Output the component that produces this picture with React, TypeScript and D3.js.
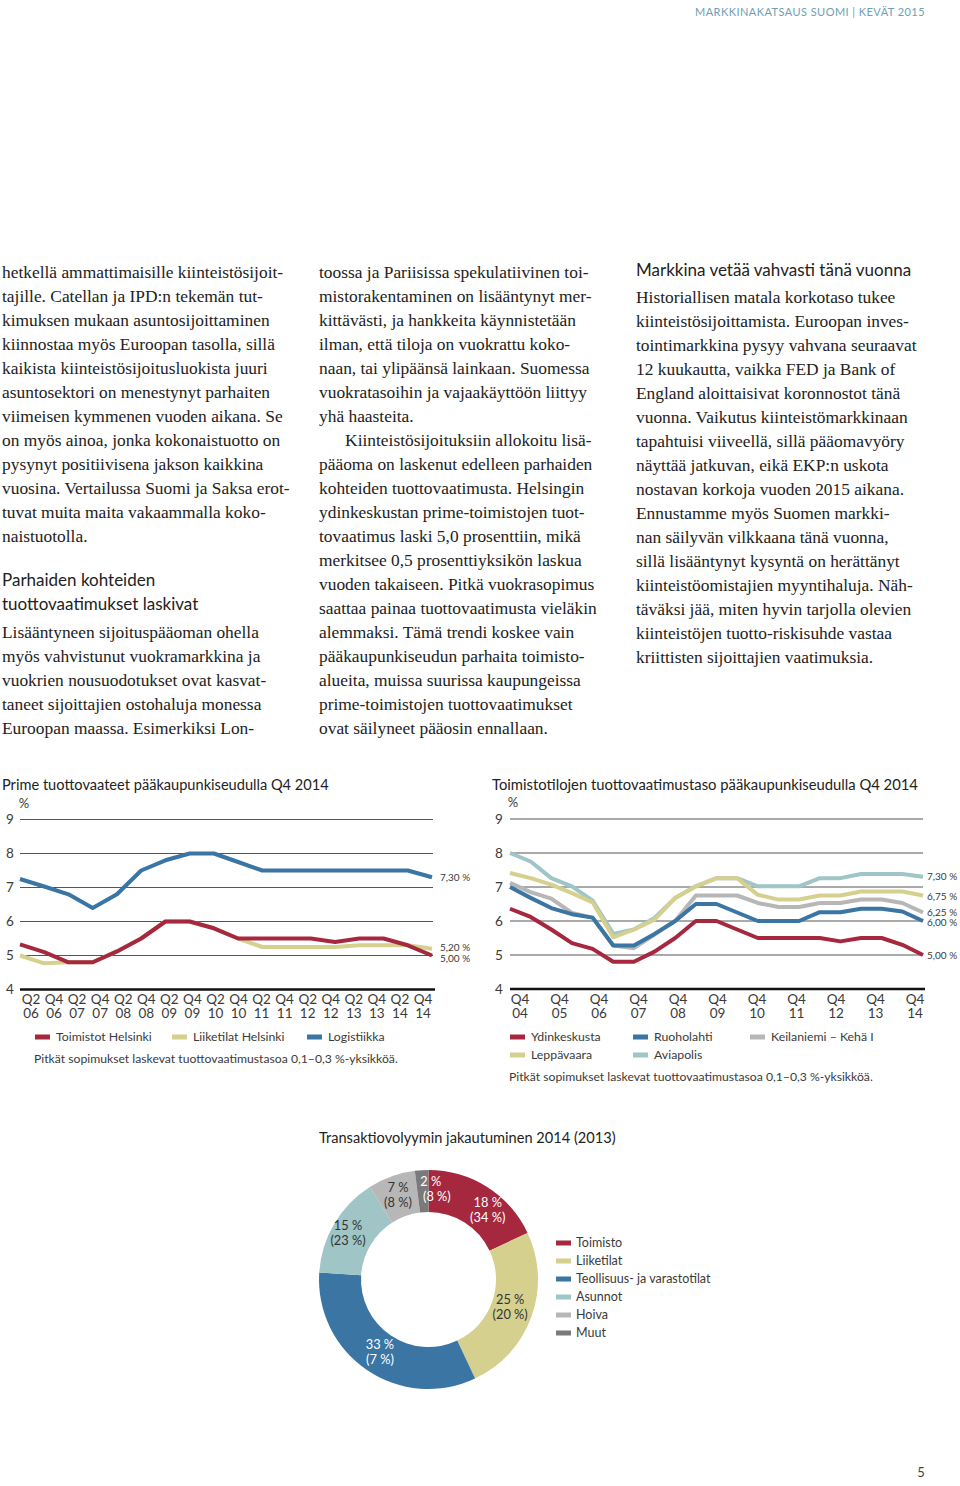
import React from "react";
import * as d3 from "d3";

// ---------- DATA ----------
const primeQuarters = ["Q2 06","Q4 06","Q2 07","Q4 07","Q2 08","Q4 08","Q2 09","Q4 09","Q2 10","Q4 10","Q2 11","Q4 11","Q2 12","Q4 12","Q2 13","Q4 13","Q2 14","Q4 14"];
const toimistotHelsinki = [5.33, 5.1, 4.8, 4.8, 5.12, 5.5, 6.0, 6.0, 5.8, 5.5, 5.5, 5.5, 5.5, 5.4, 5.5, 5.5, 5.3, 5.0];
const liiketilatHelsinki = [5.0, 4.77, 4.8, 4.8, 5.12, 5.5, 6.0, 6.0, 5.8, 5.5, 5.25, 5.25, 5.25, 5.25, 5.3, 5.3, 5.3, 5.2];
const logistiikka = [7.25, 7.03, 6.8, 6.4, 6.8, 7.5, 7.8, 8.0, 8.0, 7.75, 7.5, 7.5, 7.5, 7.5, 7.5, 7.5, 7.5, 7.3];
const primeEndLabels = ["7,30 %", "5,20 %", "5,00 %"];
const primeEndValues = [7.3, 5.2, 5.0];

const officePeriods = ["Q4 04","Q2 05","Q4 05","Q2 06","Q4 06","Q2 07","Q4 07","Q2 08","Q4 08","Q2 09","Q4 09","Q2 10","Q4 10","Q2 11","Q4 11","Q2 12","Q4 12","Q2 13","Q4 13","Q2 14","Q4 14"];
const officeTicks = ["Q4 04","Q4 05","Q4 06","Q4 07","Q4 08","Q4 09","Q4 10","Q4 11","Q4 12","Q4 13","Q4 14"];
const ydinkeskusta = [6.36, 6.12, 5.75, 5.35, 5.18, 4.8, 4.8, 5.1, 5.5, 6.0, 6.0, 5.75, 5.5, 5.5, 5.5, 5.5, 5.4, 5.5, 5.5, 5.3, 5.0];
const ruoholahti = [7.0, 6.68, 6.38, 6.2, 6.1, 5.28, 5.28, 5.62, 6.0, 6.5, 6.5, 6.25, 6.0, 6.0, 6.0, 6.26, 6.26, 6.36, 6.36, 6.28, 6.0];
const keilaniemi = [7.12, 6.85, 6.66, 6.24, 6.1, 5.28, 5.2, 5.6, 6.0, 6.75, 6.75, 6.75, 6.53, 6.41, 6.41, 6.53, 6.53, 6.63, 6.63, 6.53, 6.25];
const leppavaara = [7.41, 7.26, 7.07, 6.82, 6.55, 5.52, 5.75, 6.04, 6.68, 7.02, 7.26, 7.26, 6.77, 6.63, 6.63, 6.75, 6.75, 6.87, 6.87, 6.87, 6.75];
const aviapolis = [8.0, 7.75, 7.26, 7.02, 6.6, 5.62, 5.75, 6.09, 6.68, 7.02, 7.26, 7.26, 7.02, 7.02, 7.02, 7.26, 7.26, 7.38, 7.38, 7.38, 7.3];
const officeEndLabels = ["7,30 %", "6,75 %", "6,25 %", "6,00 %", "5,00 %"];
const officeEndValues = [7.3, 6.75, 6.25, 6.0, 5.0];

const yTicks = [4, 5, 6, 7, 8, 9];

const donutCategories = ["Toimisto", "Liiketilat", "Teollisuus- ja varastotilat", "Asunnot", "Hoiva", "Muut"];
const donut2014 = [18, 25, 33, 15, 7, 2];
const donut2013 = [34, 20, 7, 23, 8, 8];

const col1 = [
  "hetkellä ammattimaisille kiinteistösijoit-",
  "tajille. Catellan ja IPD:n tekemän tut-",
  "kimuksen mukaan asuntosijoittaminen",
  "kiinnostaa myös Euroopan tasolla, sillä",
  "kaikista kiinteistösijoitusluokista juuri",
  "asuntosektori on menestynyt parhaiten",
  "viimeisen kymmenen vuoden aikana. Se",
  "on myös ainoa, jonka kokonaistuotto on",
  "pysynyt positiivisena jakson kaikkina",
  "vuosina. Vertailussa Suomi ja Saksa erot-",
  "tuvat muita maita vakaammalla koko-",
  "naistuotolla.",
];
const col1Heading = ["Parhaiden kohteiden", "tuottovaatimukset laskivat"];
const col1b = [
  "Lisääntyneen sijoituspääoman ohella",
  "myös vahvistunut vuokramarkkina ja",
  "vuokrien nousuodotukset ovat kasvat-",
  "taneet sijoittajien ostohaluja monessa",
  "Euroopan maassa. Esimerkiksi Lon-",
];
const col2 = [
  "toossa ja Pariisissa spekulatiivinen toi-",
  "mistorakentaminen on lisääntynyt mer-",
  "kittävästi, ja hankkeita käynnistetään",
  "ilman, että tiloja on vuokrattu koko-",
  "naan, tai ylipäänsä lainkaan. Suomessa",
  "vuokratasoihin ja vajaakäyttöön liittyy",
  "yhä haasteita.",
  "\u2003\u2002Kiinteistösijoituksiin allokoitu lisä-",
  "pääoma on laskenut edelleen parhaiden",
  "kohteiden tuottovaatimusta. Helsingin",
  "ydinkeskustan prime-toimistojen tuot-",
  "tovaatimus laski 5,0 prosenttiin, mikä",
  "merkitsee 0,5 prosenttiyksikön laskua",
  "vuoden takaiseen. Pitkä vuokrasopimus",
  "saattaa painaa tuottovaatimusta vieläkin",
  "alemmaksi. Tämä trendi koskee vain",
  "pääkaupunkiseudun parhaita toimisto-",
  "alueita, muissa suurissa kaupungeissa",
  "prime-toimistojen tuottovaatimukset",
  "ovat säilyneet pääosin ennallaan.",
];
const col3Heading = "Markkina vetää vahvasti tänä vuonna";
const col3 = [
  "Historiallisen matala korkotaso tukee",
  "kiinteistösijoittamista. Euroopan inves-",
  "tointimarkkina pysyy vahvana seuraavat",
  "12 kuukautta, vaikka FED ja Bank of",
  "England aloittaisivat koronnostot tänä",
  "vuonna. Vaikutus kiinteistömarkkinaan",
  "tapahtuisi viiveellä, sillä pääomavyöry",
  "näyttää jatkuvan, eikä EKP:n uskota",
  "nostavan korkoja vuoden 2015 aikana.",
  "Ennustamme myös Suomen markki-",
  "nan säilyvän vilkkaana tänä vuonna,",
  "sillä lisääntynyt kysyntä on herättänyt",
  "kiinteistöomistajien myyntihaluja. Näh-",
  "täväksi jää, miten hyvin tarjolla olevien",
  "kiinteistöjen tuotto-riskisuhde vastaa",
  "kriittisten sijoittajien vaatimuksia.",
];

// ---------- STYLE ----------
const C = {
  red: "#a6283f",
  yellow: "#d6d08e",
  blue: "#3a75a3",
  teal: "#9fc5c6",
  gray: "#b7b7b7",
  dark: "#7a7a7a",
};
const SANS = "Lato, 'Open Sans', sans-serif";
const SERIF = "'Liberation Serif', 'DejaVu Serif', serif";
const TXT = "#3a3a3a";

function Paragraph({ lines, x, y0, step }: { lines: string[]; x: number; y0: number; step: number }) {
  return (
    <g fontFamily={SERIF} fontSize={17.4} fill="#222">
      {lines.map((l, i) => (
        <text key={i} x={x} y={y0 + i * step} dy="0.33em" xmlSpace="preserve">{l}</text>
      ))}
    </g>
  );
}

function YAxisGrid({ y, x0, x1, labelX }: { y: d3.ScaleLinear<number, number>; x0: number; x1: number; labelX: number }) {
  return (
    <g>
      {yTicks.map((t) => (
        <g key={t}>
          <line x1={x0} x2={t === 4 ? x1 + 2 : x1} y1={y(t)} y2={y(t)} stroke={t === 4 ? "#111" : "#555"} strokeWidth={t === 4 ? 2.6 : 1} />
          <text x={labelX} y={y(t)} dy="0.35em" textAnchor="middle" fontFamily={SANS} fontSize={13.5} fill={TXT}>{t}</text>
        </g>
      ))}
      <text x={labelX + 14} y={y(9) - 12} textAnchor="middle" fontFamily={SANS} fontSize={13} fill={TXT}>%</text>
    </g>
  );
}

function PrimeChart() {
  const y = d3.scaleLinear().domain([4, 9]).range([989.5, 819.5]);
  const x = d3.scalePoint<string>().domain(primeQuarters).range([20, 432]);
  const xl = d3.scalePoint<string>().domain(primeQuarters).range([31, 423]);
  const line = (vals: number[]) =>
    d3.line<number>().x((_, i) => x(primeQuarters[i]) as number).y((v) => y(v))(vals) as string;
  const series = [
    { name: "Toimistot Helsinki", vals: toimistotHelsinki, color: C.red },
    { name: "Liiketilat Helsinki", vals: liiketilatHelsinki, color: C.yellow },
    { name: "Logistiikka", vals: logistiikka, color: C.blue },
  ];
  const legendX = [35, 172, 307];
  const endOffsets = [0, -1, 3];
  return (
    <g>
      <text x={2} y={785} dy="0.35em" fontFamily={SANS} fontSize={14.6} fill="#222">Prime tuottovaateet pääkaupunkiseudulla Q4 2014</text>
      <YAxisGrid y={y} x0={20} x1={433} labelX={10} />
      {[...series].reverse().map((s) => (
        <path key={s.name} d={line(s.vals)} fill="none" stroke={s.color} strokeWidth={4} strokeLinejoin="round" />
      ))}
      {primeEndLabels.map((l, i) => (
        <text key={l} x={440} y={y(primeEndValues[i]) + endOffsets[i]} dy="0.35em" fontFamily={SANS} fontSize={10} fill={TXT}>{l}</text>
      ))}
      {primeQuarters.map((q) => {
        const [a, b] = q.split(" ");
        return (
          <text key={q} x={xl(q)} y={999} textAnchor="middle" fontFamily={SANS} fontSize={13.5} fill={TXT}>
            <tspan x={xl(q)} dy="0.35em">{a}</tspan>
            <tspan x={xl(q)} dy="14">{b}</tspan>
          </text>
        );
      })}
      {series.map((s, i) => (
        <g key={s.name}>
          <rect x={legendX[i]} y={1034.5} width={15} height={5} fill={s.color} />
          <text x={legendX[i] + 21} y={1037} dy="0.35em" fontFamily={SANS} fontSize={12.3} fill={TXT}>{s.name}</text>
        </g>
      ))}
      <text x={34} y={1059} dy="0.35em" fontFamily={SANS} fontSize={12.2} fill={TXT}>Pitkät sopimukset laskevat tuottovaatimustasoa 0,1–0,3 %-yksikköä.</text>
    </g>
  );
}

function OfficeChart() {
  const y = d3.scaleLinear().domain([4, 9]).range([989, 819]);
  const x = d3.scalePoint<string>().domain(officePeriods).range([510, 923]);
  const xl = d3.scalePoint<string>().domain(officeTicks).range([520, 915]);
  const line = (vals: number[]) =>
    d3.line<number>().x((_, i) => x(officePeriods[i]) as number).y((v) => y(v))(vals) as string;
  const series = [
    { name: "Ydinkeskusta", vals: ydinkeskusta, color: C.red },
    { name: "Ruoholahti", vals: ruoholahti, color: C.blue },
    { name: "Keilaniemi – Kehä I", vals: keilaniemi, color: C.gray },
    { name: "Leppävaara", vals: leppavaara, color: C.yellow },
    { name: "Aviapolis", vals: aviapolis, color: C.teal },
  ];
  const drawOrder = [4, 3, 2, 1, 0];
  const legendPos = [[510, 1037], [633, 1037], [750, 1037], [510, 1055], [633, 1055]];
  const endOffsets = [0, 1, 0, 1, 0];
  return (
    <g>
      <text x={492} y={785} dy="0.35em" fontFamily={SANS} fontSize={14.8} fill="#222">Toimistotilojen tuottovaatimustaso pääkaupunkiseudulla Q4 2014</text>
      <YAxisGrid y={y} x0={510} x1={923} labelX={499} />
      {drawOrder.map((k) => (
        <path key={series[k].name} d={line(series[k].vals)} fill="none" stroke={series[k].color} strokeWidth={4} strokeLinejoin="round" />
      ))}
      {officeEndLabels.map((l, i) => (
        <text key={l} x={927} y={y(officeEndValues[i]) + endOffsets[i]} dy="0.35em" fontFamily={SANS} fontSize={10} fill={TXT}>{l}</text>
      ))}
      {officeTicks.map((q) => {
        const [a, b] = q.split(" ");
        return (
          <text key={q} x={xl(q)} y={999} textAnchor="middle" fontFamily={SANS} fontSize={13.5} fill={TXT}>
            <tspan x={xl(q)} dy="0.35em">{a}</tspan>
            <tspan x={xl(q)} dy="14">{b}</tspan>
          </text>
        );
      })}
      {series.map((s, i) => (
        <g key={s.name}>
          <rect x={legendPos[i][0]} y={legendPos[i][1] - 2.5} width={15} height={5} fill={s.color} />
          <text x={legendPos[i][0] + 21} y={legendPos[i][1]} dy="0.35em" fontFamily={SANS} fontSize={12.3} fill={TXT}>{s.name}</text>
        </g>
      ))}
      <text x={509} y={1077} dy="0.35em" fontFamily={SANS} fontSize={12.2} fill={TXT}>Pitkät sopimukset laskevat tuottovaatimustasoa 0,1–0,3 %-yksikköä.</text>
    </g>
  );
}

function Donut() {
  const cx = 428.5, cy = 1279.5;
  const colors = [C.red, C.yellow, C.blue, C.teal, C.gray, C.dark];
  const textColors = ["#fff", "#333", "#fff", "#333", "#333", "#fff"];
  const pie = d3.pie<number>().sort(null).value((d) => d);
  const arcs = pie(donut2014);
  const arc = d3.arc<d3.PieArcDatum<number>>().innerRadius(67.5).outerRadius(109.5);
  const labelArc = d3.arc<d3.PieArcDatum<number>>().innerRadius(90).outerRadius(90);
  const nudge = [[11, 6], [-3, -3], [2, -2], [-3, -1], [0, 0], [8, -1]];
  return (
    <g>
      <text x={319} y={1138} dy="0.35em" fontFamily={SANS} fontSize={14.6} fill="#222">Transaktiovolyymin jakautuminen 2014 (2013)</text>
      <g transform={`translate(${cx},${cy})`}>
        {arcs.map((a, i) => (
          <path key={i} d={arc(a) as string} fill={colors[i]} />
        ))}
        {arcs.map((a, i) => {
          const [lx, ly] = labelArc.centroid(a);
          const x = lx + nudge[i][0];
          const yy = ly + nudge[i][1];
          return (
            <text key={i} x={x} y={yy} textAnchor="middle" fontFamily={SANS} fontSize={12.8} fill={textColors[i]}>
              <tspan x={x} dy="-0.2em">{donut2014[i]} %</tspan>
              <tspan x={x + (i === 5 ? 6 : 0)} dy="1.15em">({donut2013[i]} %)</tspan>
            </text>
          );
        })}
      </g>
      {donutCategories.map((c, i) => (
        <g key={c}>
          <rect x={556} y={1243 + i * 18 - 2.5} width={15} height={5} fill={colors[i]} />
          <text x={576} y={1243 + i * 18} dy="0.35em" fontFamily={SANS} fontSize={12.5} fill={TXT}>{c}</text>
        </g>
      ))}
    </g>
  );
}

export default function App() {
  return (
    <svg width={960} height={1486} viewBox="0 0 960 1486" style={{ position: "absolute", left: 0, top: 0, background: "#fff" }}>
      <rect width={960} height={1486} fill="#fff" />
      <text x={925} y={12} dy="0.35em" textAnchor="end" fontFamily={SANS} fontSize={11} letterSpacing={0.45} fill="#6e9fb3">MARKKINAKATSAUS SUOMI  |  KEVÄT 2015</text>

      <Paragraph lines={col1} x={2} y0={272} step={24} />
      <g fontFamily={SANS} fontSize={17} fill="#222">
        {col1Heading.map((h, i) => (
          <text key={h} x={2} y={580 + i * 24} dy="0.35em">{h}</text>
        ))}
      </g>
      <Paragraph lines={col1b} x={2} y0={632} step={24} />
      <Paragraph lines={col2} x={319} y0={272} step={24} />
      <text x={636} y={270} dy="0.35em" fontFamily={SANS} fontSize={17} fill="#222">{col3Heading}</text>
      <Paragraph lines={col3} x={636} y0={297} step={24} />

      <PrimeChart />
      <OfficeChart />
      <Donut />

      <text x={921} y={1472} dy="0.35em" textAnchor="middle" fontFamily={SANS} fontSize={13} fill="#444">5</text>
    </svg>
  );
}
